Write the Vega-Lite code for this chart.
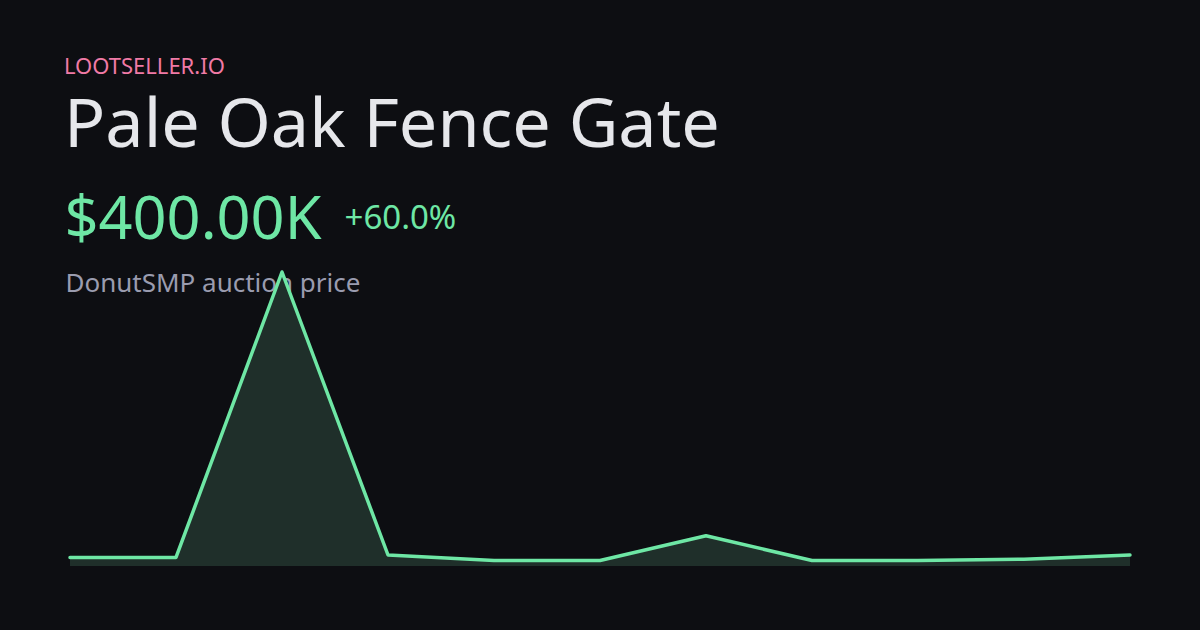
{
  "$schema": "https://vega.github.io/schema/vega-lite/v6.json",
  "autosize": {"type": "none"},
  "width": 1076,
  "height": 294,
  "padding": {"left": 62, "right": 62, "top": 272, "bottom": 64},
  "background": "#0d0e12",
  "config": {"view": {"stroke": null}, "font": "Noto Sans"},
  "title": {
    "text": "LOOTSELLER.IO",
    "subtitle": "Pale Oak Fence Gate",
    "anchor": "start",
    "frame": "group",
    "font": "Noto Sans",
    "fontSize": 22,
    "fontWeight": "normal",
    "color": "#f07aa6",
    "dx": 2,
    "subtitleFont": "Noto Sans",
    "subtitleFontSize": 68.3,
    "subtitleColor": "#e6e7eb",
    "subtitlePadding": 14,
    "offset": 29
  },
  "data": {
    "values": [
      {"t": 1, "price": 310000},
      {"t": 2, "price": 310000},
      {"t": 3, "price": 10700000},
      {"t": 4, "price": 400000},
      {"t": 5, "price": 200000},
      {"t": 6, "price": 200000},
      {"t": 7, "price": 1100000},
      {"t": 8, "price": 200000},
      {"t": 9, "price": 200000},
      {"t": 10, "price": 250000},
      {"t": 11, "price": 400000}
    ]
  },
  "resolve": {"axis": {"x": "independent", "y": "independent"}},
  "layer": [
    {
      "mark": {"type": "area", "color": "#1f2f2a", "opacity": 1},
      "encoding": {
        "x": {
          "field": "t", "type": "ordinal",
          "scale": {"type": "point", "padding": 0.0755},
          "axis": {
            "orient": "bottom", "labels": false, "ticks": false, "domain": false, "grid": false,
            "title": "DonutSMP auction price",
            "titleX": 3, "titleY": -275, "titleAlign": "left", "titleBaseline": "alphabetic", "titleAngle": 0,
            "titleFont": "Noto Sans", "titleFontSize": 26, "titleFontWeight": "normal", "titleColor": "#9a9caf", "titleLimit": 2000
          }
        },
        "y": {
          "field": "price", "type": "quantitative",
          "scale": {"zero": true, "nice": false},
          "axis": {
            "orient": "left", "labels": false, "ticks": false, "domain": false, "grid": false,
            "title": "$400.00K",
            "titleX": 2, "titleY": -34, "titleAlign": "left", "titleBaseline": "alphabetic", "titleAngle": 0,
            "titleFont": "Noto Sans", "titleFontSize": 59.5, "titleFontWeight": "normal", "titleColor": "#6ee7a5", "titleLimit": 2000
          }
        }
      }
    },
    {
      "mark": {"type": "line", "color": "#6ee7a5", "strokeWidth": 3.5, "strokeCap": "round", "strokeJoin": "round"},
      "encoding": {
        "x": {
          "field": "t", "type": "ordinal",
          "scale": {"type": "point", "padding": 0.0755},
          "axis": {"orient": "top", "labels": false, "ticks": false, "domain": false, "grid": false, "title": null}
        },
        "y": {
          "field": "price", "type": "quantitative",
          "scale": {"zero": true, "nice": false},
          "axis": {
            "orient": "right", "labels": false, "ticks": false, "domain": false, "grid": false,
            "title": "+60.0%",
            "titleX": -794, "titleY": -44, "titleAlign": "left", "titleBaseline": "alphabetic", "titleAngle": 0,
            "titleFont": "Noto Sans", "titleFontSize": 33, "titleFontWeight": "normal", "titleColor": "#6ee7a5", "titleLimit": 2000
          }
        }
      }
    }
  ]
}
